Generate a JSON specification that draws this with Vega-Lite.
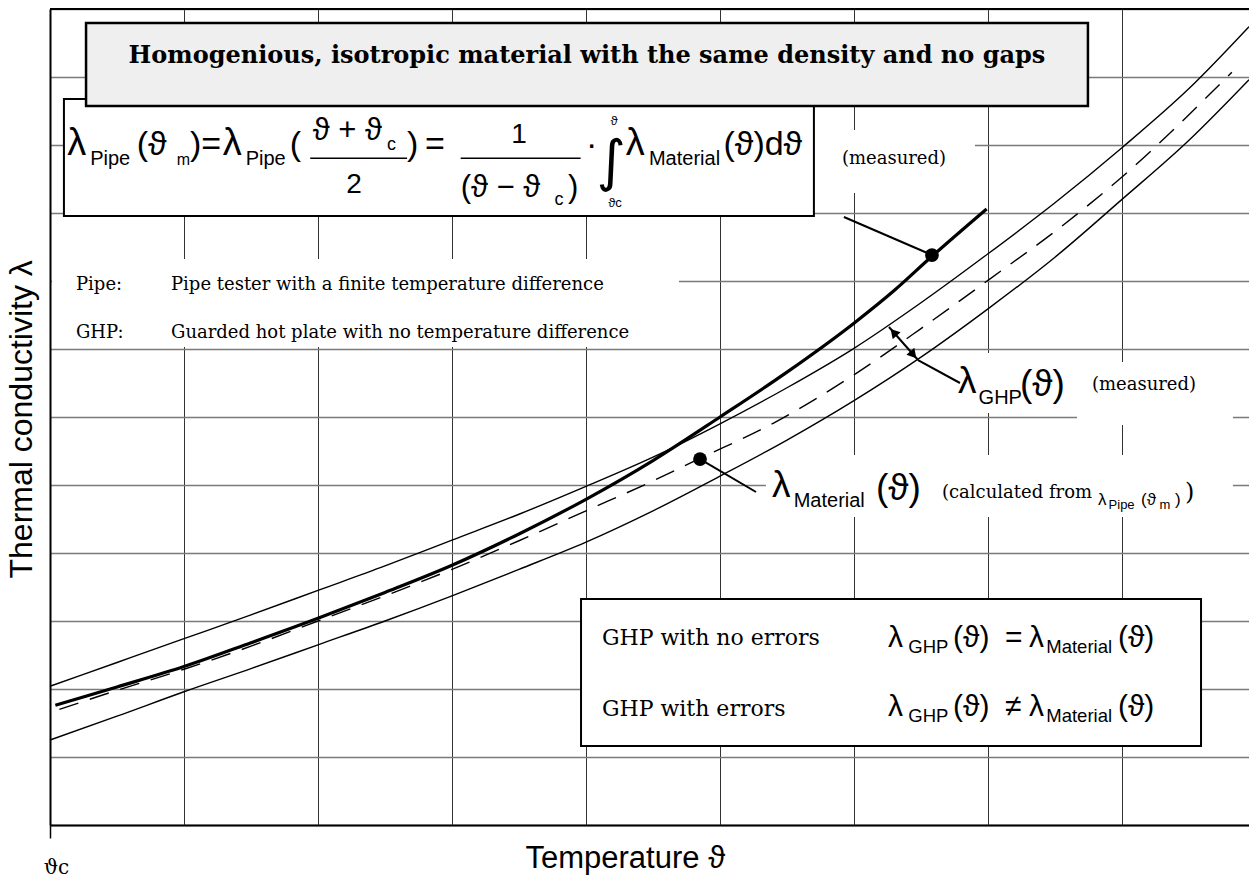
{
  "$schema": "https://vega.github.io/schema/vega-lite/v6.json",
  "width": 1199,
  "height": 816,
  "autosize": {"type": "none"},
  "padding": {"left": 50, "top": 9, "right": 0, "bottom": 53},
  "background": "white",
  "config": {"view": {"stroke": null}},
  "datasets": {
    "curves": [
      {"s": "u", "x": 0, "y": 2.04}, {"s": "u", "x": 0.5, "y": 2.39}, {"s": "u", "x": 1, "y": 2.74}, {"s": "u", "x": 1.5, "y": 3.09},
      {"s": "u", "x": 2, "y": 3.45}, {"s": "u", "x": 2.5, "y": 3.81}, {"s": "u", "x": 3, "y": 4.19}, {"s": "u", "x": 3.5, "y": 4.57},
      {"s": "u", "x": 4, "y": 4.98}, {"s": "u", "x": 4.5, "y": 5.41}, {"s": "u", "x": 5, "y": 5.9}, {"s": "u", "x": 5.5, "y": 6.43},
      {"s": "u", "x": 6, "y": 7.01}, {"s": "u", "x": 6.5, "y": 7.68}, {"s": "u", "x": 7, "y": 8.4}, {"s": "u", "x": 7.5, "y": 9.15},
      {"s": "u", "x": 8, "y": 9.96}, {"s": "u", "x": 8.5, "y": 10.83}, {"s": "u", "x": 8.948, "y": 11.74},
      {"s": "l", "x": 0, "y": 1.25}, {"s": "l", "x": 0.5, "y": 1.6}, {"s": "l", "x": 1, "y": 1.96}, {"s": "l", "x": 1.5, "y": 2.3},
      {"s": "l", "x": 2, "y": 2.65}, {"s": "l", "x": 2.5, "y": 3.0}, {"s": "l", "x": 3, "y": 3.37}, {"s": "l", "x": 3.5, "y": 3.76},
      {"s": "l", "x": 4, "y": 4.16}, {"s": "l", "x": 4.5, "y": 4.62}, {"s": "l", "x": 5, "y": 5.13}, {"s": "l", "x": 5.5, "y": 5.66},
      {"s": "l", "x": 6, "y": 6.24}, {"s": "l", "x": 6.5, "y": 6.88}, {"s": "l", "x": 7, "y": 7.59}, {"s": "l", "x": 7.5, "y": 8.35},
      {"s": "l", "x": 8, "y": 9.2}, {"s": "l", "x": 8.5, "y": 10.07}, {"s": "l", "x": 8.948, "y": 10.96},
      {"s": "m", "x": 0.07, "y": 1.7}, {"s": "m", "x": 0.5, "y": 1.98}, {"s": "m", "x": 1, "y": 2.29}, {"s": "m", "x": 1.5, "y": 2.63},
      {"s": "m", "x": 2, "y": 3.0}, {"s": "m", "x": 2.5, "y": 3.37}, {"s": "m", "x": 3, "y": 3.76}, {"s": "m", "x": 3.5, "y": 4.18},
      {"s": "m", "x": 4, "y": 4.62}, {"s": "m", "x": 4.5, "y": 5.06}, {"s": "m", "x": 4.85, "y": 5.39}, {"s": "m", "x": 5.4, "y": 5.91},
      {"s": "m", "x": 6, "y": 6.62}, {"s": "m", "x": 6.5, "y": 7.3}, {"s": "m", "x": 7, "y": 8.01}, {"s": "m", "x": 7.56, "y": 8.82},
      {"s": "m", "x": 8, "y": 9.53}, {"s": "m", "x": 8.82, "y": 11.07},
      {"s": "p", "x": 0.04, "y": 1.76}, {"s": "p", "x": 0.5, "y": 2.03}, {"s": "p", "x": 1, "y": 2.33}, {"s": "p", "x": 1.5, "y": 2.68},
      {"s": "p", "x": 2, "y": 3.04}, {"s": "p", "x": 2.5, "y": 3.42}, {"s": "p", "x": 3, "y": 3.82}, {"s": "p", "x": 3.5, "y": 4.28},
      {"s": "p", "x": 4, "y": 4.79}, {"s": "p", "x": 4.5, "y": 5.36}, {"s": "p", "x": 5, "y": 6.0}, {"s": "p", "x": 5.5, "y": 6.66},
      {"s": "p", "x": 6, "y": 7.38}, {"s": "p", "x": 6.3, "y": 7.86}, {"s": "p", "x": 6.58, "y": 8.36}, {"s": "p", "x": 6.99, "y": 9.06}
    ],
    "masks": [
      {"x": 5.701, "x2": 6.903, "y": 10.221, "y2": 9.294},
      {"x": 0.015, "x2": 4.694, "y": 8.324, "y2": 7.029},
      {"x": 6.679, "x2": 7.664, "y": 6.941, "y2": 6.059},
      {"x": 7.664, "x2": 8.828, "y": 6.809, "y2": 5.882},
      {"x": 5.343, "x2": 8.828, "y": 5.441, "y2": 4.529}
    ],
    "boxes": [
      {"x": 0.104, "x2": 5.701, "y": 10.676, "y2": 8.956},
      {"x": 3.963, "x2": 8.59, "y": 3.324, "y2": 1.162}
    ],
    "titlebox": [{"x": 0.269, "x2": 7.746, "y": 11.794, "y2": 10.574}],
    "title": [{"x": 4.007, "y": 11.206, "t": "Homogenious, isotropic material with the same density and no gaps"}],
    "serif18": [
      {"x": 5.91, "y": 9.721, "t": "(measured)"},
      {"x": 0.194, "y": 7.868, "t": "Pipe:"},
      {"x": 0.903, "y": 7.868, "t": "Pipe tester with a finite temperature difference"},
      {"x": 0.194, "y": 7.162, "t": "GHP:"},
      {"x": 0.903, "y": 7.162, "t": "Guarded hot plate with no temperature difference"},
      {"x": 7.776, "y": 6.397, "t": "(measured)"},
      {"x": 6.657, "y": 4.809, "t": "(calculated from"}
    ],
    "serif22": [
      {"x": 4.119, "y": 2.647, "t": "GHP with no errors"},
      {"x": 4.119, "y": 1.603, "t": "GHP with errors"}
    ],
    "serif24": [{"x": 8.47, "y": 4.779, "t": ")"}],
    "flambda": [
      {"x": 0.128, "y": 9.853, "t": "λ"},
      {"x": 1.29, "y": 9.853, "t": "λ"},
      {"x": 4.297, "y": 9.853, "t": "λ"}
    ],
    "fmain": [
      {"x": 0.647, "y": 9.853, "t": "(ϑ"},
      {"x": 1.045, "y": 9.853, "t": ")="},
      {"x": 1.79, "y": 9.853, "t": "("},
      {"x": 2.664, "y": 9.853, "t": ")"},
      {"x": 2.799, "y": 9.853, "t": "="},
      {"x": 4.0, "y": 9.853, "t": "·"},
      {"x": 5.026, "y": 9.853, "t": "(ϑ)dϑ"}
    ],
    "fdigits": [
      {"x": 2.269, "y": 9.29, "t": "2"},
      {"x": 3.5, "y": 10.025, "t": "1"}
    ],
    "fsub": [
      {"x": 0.3, "y": 9.706, "t": "Pipe"},
      {"x": 1.46, "y": 9.706, "t": "Pipe"},
      {"x": 4.47, "y": 9.706, "t": "Material"}
    ],
    "fsubm": [{"x": 0.945, "y": 9.706, "t": "m"}],
    "ffrac": [
      {"x": 1.961, "y": 10.074, "t": "ϑ + ϑ"},
      {"x": 3.065, "y": 9.24, "t": "(ϑ − ϑ"},
      {"x": 3.866, "y": 9.24, "t": ")"}
    ],
    "ffracsub": [
      {"x": 2.515, "y": 9.926, "t": "c"},
      {"x": 3.765, "y": 9.118, "t": "c"}
    ],
    "flimits": [
      {"x": 4.209, "y": 10.294, "t": "ϑ"},
      {"x": 4.216, "y": 9.088, "t": "ϑc"}
    ],
    "integral": [{"x": 4.187, "y": 9.485, "t": "∫"}],
    "bars": [
      {"x": 1.942, "x2": 2.665, "y": 9.804},
      {"x": 3.065, "x2": 3.96, "y": 9.804}
    ],
    "dmain": [
      {"x": 6.254, "y": 2.618, "t": "λ"},
      {"x": 6.739, "y": 2.618, "t": "(ϑ)"},
      {"x": 7.127, "y": 2.618, "t": "="},
      {"x": 7.306, "y": 2.618, "t": "λ"},
      {"x": 7.97, "y": 2.618, "t": "(ϑ)"},
      {"x": 6.254, "y": 1.603, "t": "λ"},
      {"x": 6.739, "y": 1.603, "t": "(ϑ)"},
      {"x": 7.127, "y": 1.603, "t": "≠"},
      {"x": 7.306, "y": 1.603, "t": "λ"},
      {"x": 7.97, "y": 1.603, "t": "(ϑ)"}
    ],
    "dsub": [
      {"x": 6.405, "y": 2.529, "t": "GHP"},
      {"x": 7.435, "y": 2.529, "t": "Material"},
      {"x": 6.405, "y": 1.515, "t": "GHP"},
      {"x": 7.435, "y": 1.515, "t": "Material"}
    ],
    "lmain": [
      {"x": 6.776, "y": 6.353, "t": "λ"},
      {"x": 7.239, "y": 6.309, "t": "(ϑ)"},
      {"x": 5.388, "y": 4.824, "t": "λ"},
      {"x": 6.164, "y": 4.779, "t": "(ϑ)"}
    ],
    "lsub": [
      {"x": 6.93, "y": 6.191, "t": "GHP"},
      {"x": 5.55, "y": 4.676, "t": "Material"}
    ],
    "smain": [
      {"x": 7.821, "y": 4.706, "t": "λ"},
      {"x": 8.142, "y": 4.706, "t": "(ϑ"},
      {"x": 8.396, "y": 4.706, "t": ")"}
    ],
    "ssub": [
      {"x": 7.9, "y": 4.647, "t": "Pipe"},
      {"x": 8.28, "y": 4.647, "t": "m"}
    ],
    "leaders": [
      {"x": 5.925, "y": 8.941, "x2": 6.582, "y2": 8.382},
      {"x": 4.851, "y": 5.382, "x2": 5.269, "y2": 4.897},
      {"x": 6.478, "y": 6.838, "x2": 6.791, "y2": 6.5},
      {"x": 6.261, "y": 7.324, "x2": 6.478, "y2": 6.838}
    ],
    "arrowUp": [{"x": 6.296, "y": 7.245}],
    "arrowDown": [{"x": 6.443, "y": 6.916}],
    "dots": [{"x": 6.582, "y": 8.382}, {"x": 4.851, "y": 5.382}],
    "frame": [{"x": 0, "x2": 8.948, "y": 12}]
  },
  "encoding": {
    "x": {
      "field": "x", "type": "quantitative",
      "scale": {"domain": [0, 8.948], "nice": false, "zero": false},
      "axis": {
        "values": [0, 1, 2, 3, 4, 5, 6, 7, 8],
        "grid": true, "gridColor": "#333333", "gridWidth": 1,
        "domain": true, "domainColor": "black", "domainWidth": 2,
        "ticks": true, "tickSize": 13, "tickWidth": 1.5,
        "tickColor": {"condition": {"test": "datum.value === 0", "value": "black"}, "value": "transparent"},
        "labelExpr": "datum.value === 0 ? 'ϑc' : ''",
        "labelFont": "DejaVu Serif", "labelFontSize": 20, "labelColor": "black",
        "labelBaseline": "alphabetic", "labelAlign": "center", "labelOffset": 6, "labelPadding": 35,
        "labelFlush": false, "labelOverlap": false, "labelBound": false,
        "title": "Temperature ϑ", "titleFont": "Liberation Sans", "titleFontSize": 31,
        "titleFontWeight": "normal", "titleColor": "black",
        "titleX": 475, "titleY": 42, "titleBaseline": "alphabetic", "titleAlign": "left", "titleAnchor": null
      }
    },
    "y": {
      "field": "y", "type": "quantitative",
      "scale": {"domain": [0, 12], "nice": false, "zero": false},
      "axis": {
        "values": [0, 1, 2, 3, 4, 5, 6, 7, 8, 9, 10, 11, 12],
        "grid": true, "gridColor": "#7a7a7a", "gridWidth": 1.6,
        "domain": true, "domainColor": "black", "domainWidth": 2,
        "ticks": false, "labels": false,
        "title": "Thermal conductivity λ", "titleFont": "Liberation Sans", "titleFontSize": 32,
        "titleFontWeight": "normal", "titleColor": "black",
        "titleX": -29, "titleY": 569, "titleBaseline": "middle", "titleAlign": "left", "titleAngle": -90, "titleAnchor": null
      }
    }
  },
  "layer": [
    {"data": {"name": "masks"}, "mark": {"type": "rect", "fill": "white", "strokeWidth": 0},
     "encoding": {"x2": {"field": "x2"}, "y2": {"field": "y2"}}},
    {"data": {"name": "curves"}, "transform": [{"filter": "datum.s === 'u'"}],
     "mark": {"type": "line", "color": "black", "strokeWidth": 1.4, "interpolate": "monotone"}},
    {"data": {"name": "curves"}, "transform": [{"filter": "datum.s === 'l'"}],
     "mark": {"type": "line", "color": "black", "strokeWidth": 1.4, "interpolate": "monotone"}},
    {"data": {"name": "curves"}, "transform": [{"filter": "datum.s === 'm'"}],
     "mark": {"type": "line", "color": "black", "strokeWidth": 1.4, "strokeDash": [20, 12], "interpolate": "monotone"}},
    {"data": {"name": "curves"}, "transform": [{"filter": "datum.s === 'p'"}],
     "mark": {"type": "line", "color": "black", "strokeWidth": 3.2, "interpolate": "monotone"}},
    {"data": {"name": "boxes"}, "mark": {"type": "rect", "fill": "white", "stroke": "black", "strokeWidth": 2},
     "encoding": {"x2": {"field": "x2"}, "y2": {"field": "y2"}}},
    {"data": {"name": "titlebox"}, "mark": {"type": "rect", "fill": "#efefef", "stroke": "black", "strokeWidth": 2.5},
     "encoding": {"x2": {"field": "x2"}, "y2": {"field": "y2"}}},
    {"data": {"name": "title"}, "mark": {"type": "text", "font": "DejaVu Serif", "fontWeight": "bold", "fontSize": 24, "align": "center", "baseline": "alphabetic", "color": "black"},
     "encoding": {"text": {"field": "t"}}},
    {"data": {"name": "serif18"}, "mark": {"type": "text", "font": "DejaVu Serif", "fontSize": 18, "align": "left", "baseline": "alphabetic", "color": "black"},
     "encoding": {"text": {"field": "t"}}},
    {"data": {"name": "serif22"}, "mark": {"type": "text", "font": "DejaVu Serif", "fontSize": 22, "align": "left", "baseline": "alphabetic", "color": "black"},
     "encoding": {"text": {"field": "t"}}},
    {"data": {"name": "serif24"}, "mark": {"type": "text", "font": "DejaVu Serif", "fontSize": 24, "align": "left", "baseline": "alphabetic", "color": "black"},
     "encoding": {"text": {"field": "t"}}},
    {"data": {"name": "flambda"}, "mark": {"type": "text", "font": "Liberation Sans, DejaVu Sans", "fontSize": 38, "align": "left", "baseline": "alphabetic", "color": "black"},
     "encoding": {"text": {"field": "t"}}},
    {"data": {"name": "fmain"}, "mark": {"type": "text", "font": "Liberation Sans, DejaVu Sans", "fontSize": 34, "align": "left", "baseline": "alphabetic", "color": "black"},
     "encoding": {"text": {"field": "t"}}},
    {"data": {"name": "fdigits"}, "mark": {"type": "text", "font": "Liberation Sans, DejaVu Sans", "fontSize": 28, "align": "center", "baseline": "alphabetic", "color": "black"},
     "encoding": {"text": {"field": "t"}}},
    {"data": {"name": "fsub"}, "mark": {"type": "text", "font": "Liberation Sans, DejaVu Sans", "fontSize": 20, "align": "left", "baseline": "alphabetic", "color": "black"},
     "encoding": {"text": {"field": "t"}}},
    {"data": {"name": "fsubm"}, "mark": {"type": "text", "font": "Liberation Sans, DejaVu Sans", "fontSize": 16, "align": "left", "baseline": "alphabetic", "color": "black"},
     "encoding": {"text": {"field": "t"}}},
    {"data": {"name": "ffrac"}, "mark": {"type": "text", "font": "Liberation Sans, DejaVu Sans", "fontSize": 31, "align": "left", "baseline": "alphabetic", "color": "black"},
     "encoding": {"text": {"field": "t"}}},
    {"data": {"name": "ffracsub"}, "mark": {"type": "text", "font": "Liberation Sans, DejaVu Sans", "fontSize": 18, "align": "left", "baseline": "alphabetic", "color": "black"},
     "encoding": {"text": {"field": "t"}}},
    {"data": {"name": "flimits"}, "mark": {"type": "text", "font": "Liberation Sans, DejaVu Sans", "fontSize": 13, "align": "center", "baseline": "alphabetic", "color": "black"},
     "encoding": {"text": {"field": "t"}}},
    {"data": {"name": "integral"}, "mark": {"type": "text", "font": "DejaVu Sans", "fontSize": 56, "align": "center", "baseline": "alphabetic", "color": "black"},
     "encoding": {"text": {"field": "t"}}},
    {"data": {"name": "bars"}, "mark": {"type": "rule", "color": "black", "strokeWidth": 1.5},
     "encoding": {"x2": {"field": "x2"}}},
    {"data": {"name": "dmain"}, "mark": {"type": "text", "font": "Liberation Sans, DejaVu Sans", "fontSize": 30, "align": "left", "baseline": "alphabetic", "color": "black"},
     "encoding": {"text": {"field": "t"}}},
    {"data": {"name": "dsub"}, "mark": {"type": "text", "font": "Liberation Sans, DejaVu Sans", "fontSize": 18.5, "align": "left", "baseline": "alphabetic", "color": "black"},
     "encoding": {"text": {"field": "t"}}},
    {"data": {"name": "lmain"}, "mark": {"type": "text", "font": "Liberation Sans, DejaVu Sans", "fontSize": 37, "align": "left", "baseline": "alphabetic", "color": "black"},
     "encoding": {"text": {"field": "t"}}},
    {"data": {"name": "lsub"}, "mark": {"type": "text", "font": "Liberation Sans, DejaVu Sans", "fontSize": 20, "align": "left", "baseline": "alphabetic", "color": "black"},
     "encoding": {"text": {"field": "t"}}},
    {"data": {"name": "smain"}, "mark": {"type": "text", "font": "Liberation Sans, DejaVu Sans", "fontSize": 17, "align": "left", "baseline": "alphabetic", "color": "black"},
     "encoding": {"text": {"field": "t"}}},
    {"data": {"name": "ssub"}, "mark": {"type": "text", "font": "Liberation Sans, DejaVu Sans", "fontSize": 13, "align": "left", "baseline": "alphabetic", "color": "black"},
     "encoding": {"text": {"field": "t"}}},
    {"data": {"name": "leaders"}, "mark": {"type": "rule", "color": "black", "strokeWidth": 2},
     "encoding": {"x2": {"field": "x2"}, "y2": {"field": "y2"}}},
    {"data": {"name": "arrowUp"}, "mark": {"type": "point", "shape": "triangle-up", "filled": true, "color": "black", "opacity": 1, "size": 110, "angle": 319}},
    {"data": {"name": "arrowDown"}, "mark": {"type": "point", "shape": "triangle-up", "filled": true, "color": "black", "opacity": 1, "size": 110, "angle": 139}},
    {"data": {"name": "dots"}, "mark": {"type": "point", "shape": "circle", "filled": true, "color": "black", "opacity": 1, "size": 190}},
    {"data": {"name": "frame"}, "mark": {"type": "rule", "color": "black", "strokeWidth": 2},
     "encoding": {"x2": {"field": "x2"}}}
  ]
}
